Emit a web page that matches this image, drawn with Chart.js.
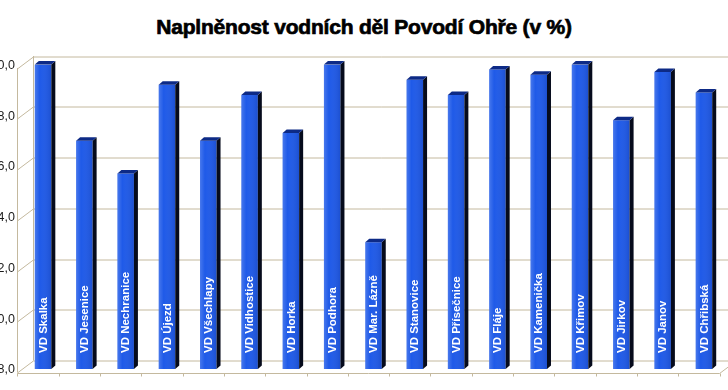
<!DOCTYPE html>
<html>
<head>
<meta charset="utf-8">
<script src="https://cdn.jsdelivr.net/npm/chart.js@4.4.1/dist/chart.umd.min.js"></script>
<style>
  html, body { margin: 0; padding: 0; background: #ffffff; overflow: hidden; }
  #wrap { position: relative; width: 728px; height: 390px; overflow: hidden; background: #ffffff; }
  #title {
    position: absolute; left: 0; top: 16px; width: 728px; text-align: center;
    font-family: "Liberation Sans", Arial, sans-serif;
    font-weight: bold; font-size: 21px; line-height: 22px; color: #000;
    -webkit-text-stroke: 0.7px #000; letter-spacing: -0.2px;
  }
  #c { position: absolute; left: -30px; top: 0; }
</style>
</head>
<body>
<div id="wrap">
  <div id="title">Naplněnost vodních děl Povodí Ohře (v %)</div>
  <canvas id="c" width="758" height="390"></canvas>
</div>
<script>
const categories = ['VD Skalka', 'VD Jesenice', 'VD Nechranice', 'VD Újezd', 'VD Všechlapy', 'VD Vidhostice', 'VD Horka', 'VD Podhora', 'VD Mar. Lázně', 'VD Stanovice', 'VD Přísečnice', 'VD Fláje', 'VD Kamenička', 'VD Křimov', 'VD Jirkov', 'VD Janov', 'VD Chřibská'];
const fillValues = [100.0, 97.0, 95.7, 99.2, 97.0, 98.8, 97.3, 100.0, 93.0, 99.4, 98.8, 99.8, 99.6, 100.0, 97.8, 99.7, 98.9];
const yTickValues = [88, 90, 92, 94, 96, 98, 100];

const GRID = 'rgb(196,185,158)';
const FRONT = { x: -5, y: 3.5 };
const BACK = { x: 11, y: -8.5 };

const depthPlugin = {
  id: 'depth',
  beforeDatasetsDraw(chart) {
    const ctx = chart.ctx, a = chart.chartArea, ys = chart.scales.y, xs = chart.scales.x;
    const yMin = ys.getPixelForValue(yTickValues[0]);
    const yMax = ys.getPixelForValue(yTickValues[yTickValues.length - 1]);
    ctx.save();
    ctx.strokeStyle = GRID;
    ctx.lineWidth = 1;
    yTickValues.forEach(v => {
      const p = Math.round(ys.getPixelForValue(v)) + 0.5;
      ctx.beginPath();
      ctx.moveTo(a.left + FRONT.x, p + FRONT.y);
      ctx.lineTo(a.left + BACK.x, p + BACK.y);
      ctx.lineTo(a.right + BACK.x + 20, p + BACK.y);
      ctx.stroke();
    });
    ctx.beginPath();
    ctx.moveTo(Math.round(a.left + FRONT.x) + 0.5, yMax + FRONT.y);
    ctx.lineTo(Math.round(a.left + FRONT.x) + 0.5, yMin + FRONT.y);
    ctx.moveTo(Math.round(a.left + BACK.x) + 0.5, yMax + BACK.y);
    ctx.lineTo(Math.round(a.left + BACK.x) + 0.5, yMin + BACK.y);
    ctx.stroke();
    const fy = Math.round(yMin + FRONT.y) + 0.5;
    ctx.beginPath();
    ctx.moveTo(a.left + FRONT.x, fy);
    ctx.lineTo(a.right + FRONT.x, fy);
    ctx.lineTo(a.right + BACK.x, Math.round(yMin + BACK.y) + 0.5);
    ctx.stroke();
    const n = categories.length;
    const bounds = [a.left];
    for (let k = 1; k < n; k++) bounds.push((xs.getPixelForValue(k - 1) + xs.getPixelForValue(k)) / 2);
    bounds.push(a.right);
    ctx.beginPath();
    bounds.forEach(b => {
      const bx = Math.round(b + FRONT.x) + 0.5;
      ctx.moveTo(bx, fy);
      ctx.lineTo(bx, fy + 3);
    });
    ctx.stroke();
    ctx.restore();
  },
  afterDatasetsDraw(chart) {
    const ctx = chart.ctx;
    const meta = chart.getDatasetMeta(0);
    const d = 4, e = 3.5;
    ctx.save();
    meta.data.forEach((bar, i) => {
      const { x, y, base, width } = bar.getProps(['x', 'y', 'base', 'width'], true);
      const l = x - width / 2, r = x + width / 2;
      const g = ctx.createLinearGradient(l, 0, r, 0);
      g.addColorStop(0, 'rgba(255,255,255,0.18)');
      g.addColorStop(0.3, 'rgba(255,255,255,0.0)');
      g.addColorStop(1, 'rgba(0,0,40,0.12)');
      ctx.fillStyle = g;
      ctx.fillRect(l, y, width, base - y);
      ctx.fillStyle = '#060b1c';
      ctx.beginPath();
      ctx.moveTo(r, y);
      ctx.lineTo(r + d, y - e);
      ctx.lineTo(r + d, base - e);
      ctx.lineTo(r, base);
      ctx.closePath();
      ctx.fill();
      ctx.fillStyle = '#0d2a86';
      ctx.beginPath();
      ctx.moveTo(l, y);
      ctx.lineTo(l + d, y - e);
      ctx.lineTo(r + d, y - e);
      ctx.lineTo(r, y);
      ctx.closePath();
      ctx.fill();
      ctx.save();
      ctx.translate(x, base - 16);
      ctx.rotate(-Math.PI / 2);
      ctx.fillStyle = '#ffffff';
      ctx.font = 'bold 11.5px "Liberation Sans", Arial, sans-serif';
      ctx.textAlign = 'left';
      ctx.textBaseline = 'middle';
      ctx.fillText(categories[i], 0, 0.5);
      ctx.restore();
    });
    ctx.restore();
  }
};

new Chart(document.getElementById('c'), {
  type: 'bar',
  data: {
    labels: categories,
    datasets: [{
      data: fillValues,
      base: yTickValues[0],
      backgroundColor: '#1f5ae8',
      borderWidth: 0,
      categoryPercentage: 1.0,
      barPercentage: 0.4
    }]
  },
  options: {
    responsive: false,
    animation: false,
    layout: { padding: { top: 64.5, bottom: 21, left: 0, right: 3.4 } },
    plugins: { legend: { display: false }, title: { display: false }, tooltip: { enabled: false } },
    scales: {
      x: { display: false },
      y: {
        min: 88, max: 100,
        afterBuildTicks: s => { s.ticks = yTickValues.map(v => ({ value: v })); },
        afterFit: s => { s.width = 52.4; },
        grid: { display: false, drawTicks: false },
        border: { display: false },
        ticks: {
          padding: 7.4,
          labelOffset: 1,
          color: '#1a1a1a',
          font: { family: '"Liberation Sans", Arial, sans-serif', size: 12.5 },
          callback: v => Number(v).toFixed(1).replace('.', ',')
        }
      }
    }
  },
  plugins: [depthPlugin]
});
</script>
</body>
</html>
